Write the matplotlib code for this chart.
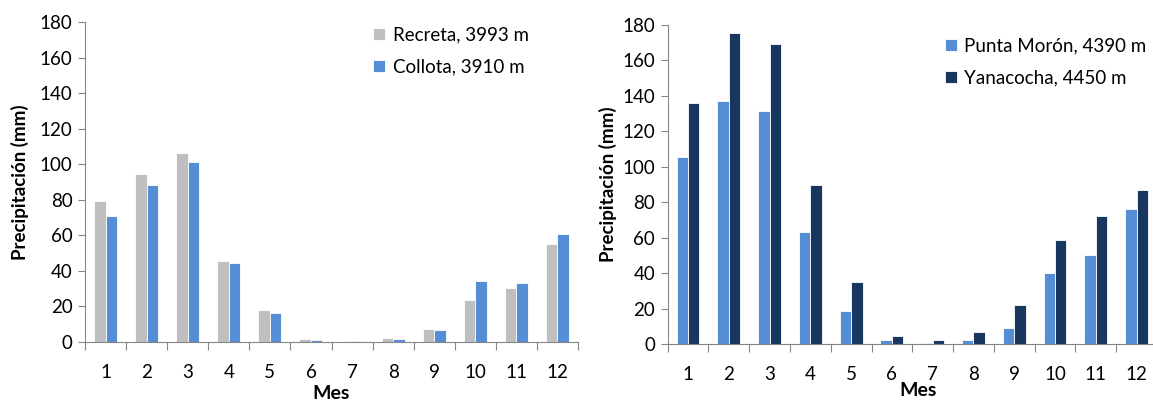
import matplotlib
matplotlib.use("Agg")
import matplotlib.pyplot as plt
import numpy as np

plt.rcParams['font.family'] = ['Lato', 'DejaVu Sans']

months = [str(i) for i in range(1, 13)]
recreta = [79.5, 94.5, 106.5, 45.5, 18, 1.5, 0.5, 2.5, 7.5, 23.5, 30.5, 55]
collota = [71, 88.5, 101, 44.5, 16.5, 1, 0.5, 1.5, 7, 34.5, 33, 60.5]
punta_moron = [105.5, 137, 131.5, 63, 18.5, 2, 0.5, 2.5, 9, 40, 50, 76]
yanacocha = [136, 175.5, 169, 89.5, 35, 4.5, 2, 7, 22, 58.5, 72, 87]

labels_left = ["Recreta, 3993 m", "Collota, 3910 m"]
labels_right = ["Punta Morón, 4390 m", "Yanacocha, 4450 m"]

fig = plt.figure(figsize=(11.53, 4.01), dpi=100)
axL = fig.add_axes([85/1153, 1-342/401, (578-85)/1153, (342-22)/401])
axR = fig.add_axes([667.6/1153, 1-344/401, (1157-667.6)/1153, (344-25)/401])

spine_c = '#868686'
w = 0.28
x = np.arange(1, 13)

def style(ax, s1, s2, c1, c2, labels, leg_anchor, ylab_x, xlab_pos):
    ax.bar(x - w/2, s1, w, color=c1, edgecolor='white', linewidth=0.6, label=labels[0])
    ax.bar(x + w/2, s2, w, color=c2, edgecolor='white', linewidth=0.6, label=labels[1])
    ax.set_xlim(0.5, 12.5)
    ax.set_ylim(0, 180)
    ax.set_yticks(range(0, 181, 20))
    ax.set_xticks(np.arange(0.5, 13, 1))
    ax.set_xticklabels([])
    ax.set_xticks(x, minor=True)
    ax.set_xticklabels(months, minor=True)
    ax.tick_params(axis='x', which='major', length=6, color=spine_c, direction='out')
    ax.tick_params(axis='x', which='minor', length=0, pad=16, labelsize=13.5)
    ax.tick_params(axis='y', length=5, color=spine_c, labelsize=13.5, pad=4)
    for s in ['top', 'right']:
        ax.spines[s].set_visible(False)
    for s in ['left', 'bottom']:
        ax.spines[s].set_color(spine_c)
    ax.set_ylabel("Precipitación (mm)", fontsize=13.5, fontweight='bold')
    ax.yaxis.set_label_coords(ylab_x, 0.5)
    ax.set_xlabel("Mes", fontsize=14, fontweight='bold')
    ax.xaxis.set_label_coords(*xlab_pos)
    ax.legend(loc='upper left', bbox_to_anchor=leg_anchor, frameon=False, fontsize=13.5,
              handlelength=0.65, handleheight=0.65, handletextpad=0.4, labelspacing=0.8,
              borderpad=0, borderaxespad=0)

style(axL, recreta, collota, '#BFBFBF', '#558ED5', labels_left, (0.584, 0.985), -0.114, (0.5, -0.135))
style(axR, punta_moron, yanacocha, '#558ED5', '#17375E', labels_right, (0.566, 0.96), -0.103, (0.512, -0.12))

fig.savefig("out.png", dpi=100)
